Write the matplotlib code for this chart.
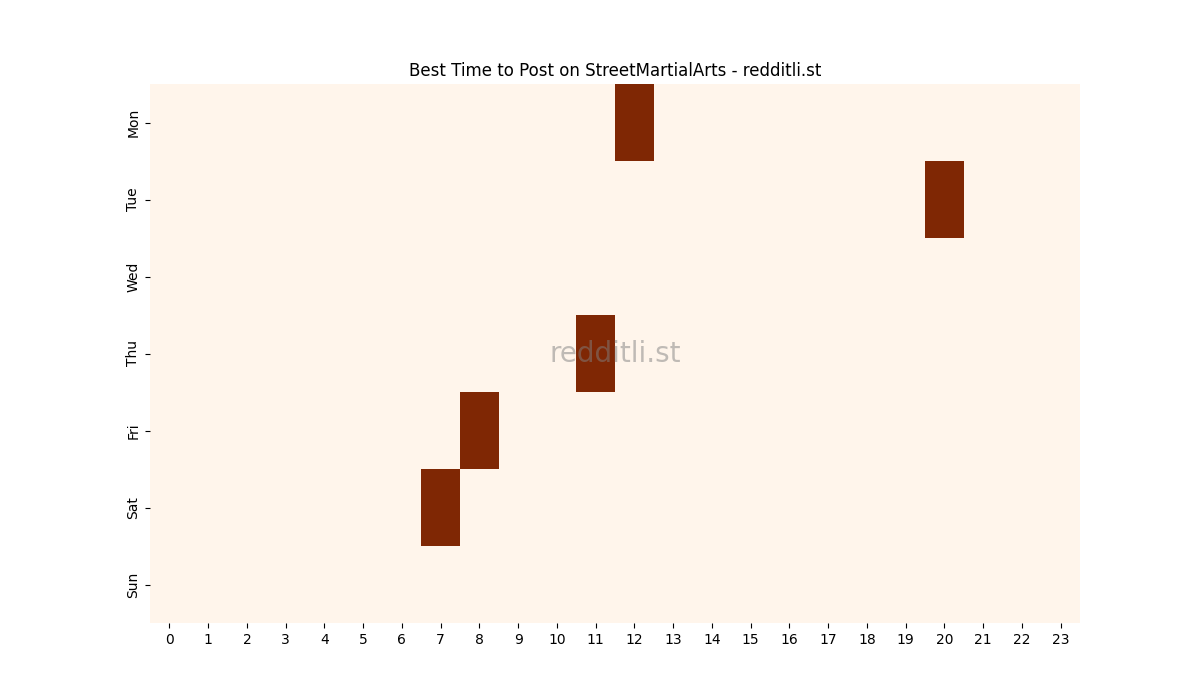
import matplotlib
matplotlib.use("Agg")
import matplotlib.pyplot as plt
import numpy as np

days = ["Mon", "Tue", "Wed", "Thu", "Fri", "Sat", "Sun"]
hours = list(range(24))
# (day, hour) cells with the top posting activity
hot_cells = [("Mon", 12), ("Tue", 20), ("Thu", 11), ("Fri", 8), ("Sat", 7)]

data = np.zeros((len(days), len(hours)))
for d, h in hot_cells:
    data[days.index(d), h] = 1

fig = plt.figure(figsize=(12, 7), dpi=100)
ax = fig.add_axes([0.125, 0.11, 0.775, 0.77])
ax.imshow(data, cmap="Oranges", aspect="auto", vmin=0, vmax=1, interpolation="nearest")
ax.set_xticks(range(len(hours)))
ax.set_xticklabels([str(h) for h in hours])
ax.set_yticks(range(len(days)))
ax.set_yticklabels(days, rotation=90, va="center")
for s in ax.spines.values():
    s.set_visible(False)
ax.set_title("Best Time to Post on StreetMartialArts - redditli.st")
ax.text(0.5, 0.5, "redditli.st", transform=ax.transAxes, ha="center", va="center",
        fontsize=20, color="gray", alpha=0.5)
fig.savefig("out.png")
